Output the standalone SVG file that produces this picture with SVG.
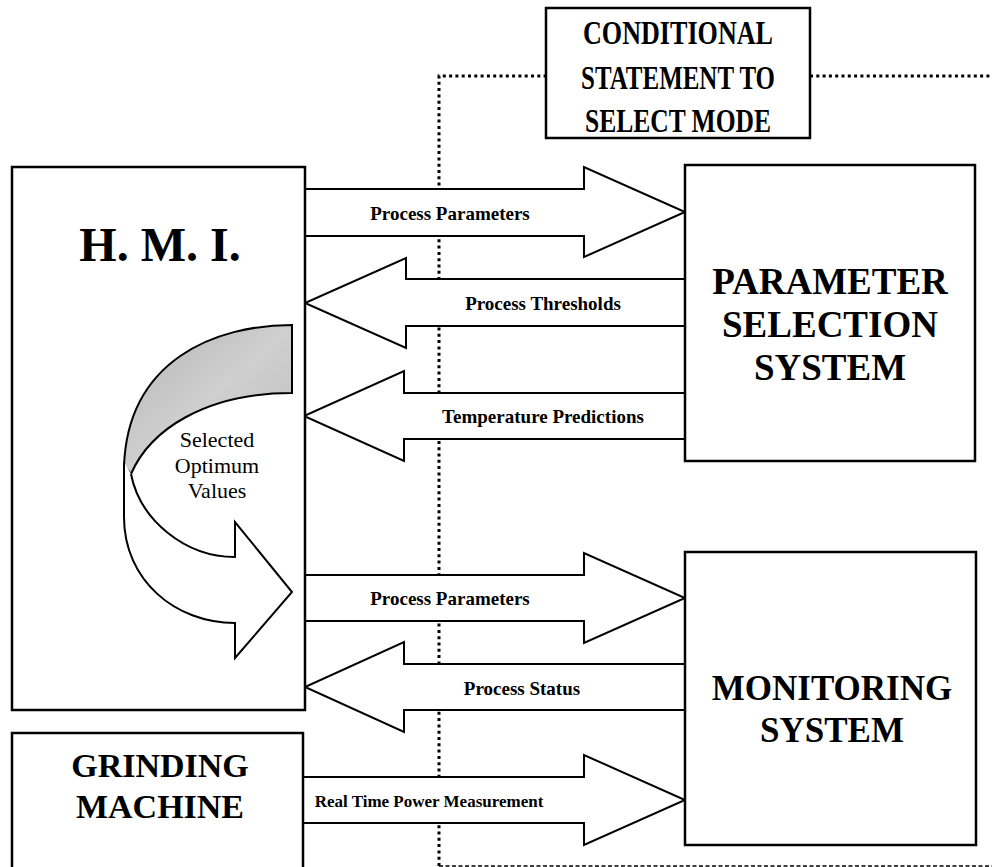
<svg xmlns="http://www.w3.org/2000/svg" width="992" height="867" viewBox="0 0 992 867">
  <style>
    .box { fill: #ffffff; stroke: #000000; stroke-width: 2.5; }
    .arrow { fill: #ffffff; stroke: #000000; stroke-width: 2; stroke-linejoin: miter; }
    .dots { fill: none; stroke: #000000; stroke-width: 3; stroke-dasharray: 3 3.3; }
    .dash { fill: none; stroke: #000000; stroke-width: 1.3; stroke-dasharray: 4 2.5; }
    .title { font-family: "Liberation Serif", "Times New Roman", serif; font-weight: bold; fill: #000000; text-anchor: middle; }
    .label { font-family: "Liberation Serif", "Times New Roman", serif; font-weight: bold; font-size: 19px; fill: #000000; text-anchor: middle; }
    .label.small { font-size: 17px; }
    .note { font-family: "Liberation Serif", "Times New Roman", serif; font-size: 22px; fill: #000000; text-anchor: middle; }
  </style>
  <defs>
    <linearGradient id="ribbonShade" x1="0" y1="0" x2="1" y2="1">
      <stop offset="0" stop-color="#b4b4b4"/>
      <stop offset="0.5" stop-color="#cfcfcf"/>
      <stop offset="1" stop-color="#bdbdbd"/>
    </linearGradient>
  </defs>

  <!-- mode-selection links (dotted) -->
  <g id="mode-links">
    <path class="dots" d="M439,866 L439,76 L546,76"/>
    <path class="dots" d="M810,76 L992,76"/>
    <path class="dash" d="M439,866 L992,866"/>
  </g>

  <!-- block arrows between the systems -->
  <g id="connectors">
    <polygon class="arrow" points="305,189 584,189 584,167 685,212 584,257 584,236 305,236"/>
    <polygon class="arrow" points="685,279 406,279 406,258 305,303 406,348 406,326 685,326"/>
    <polygon class="arrow" points="685,393 404,393 404,371 304,416 404,461 404,439 685,439"/>
    <polygon class="arrow" points="305,575 584,575 584,553 685,598 584,643 584,621 305,621"/>
    <polygon class="arrow" points="685,664 404,664 404,642 305,687 404,732 404,710 685,710"/>
    <polygon class="arrow" points="303,777 584,777 584,755 685,800 584,845 584,823 303,823"/>
    <text class="label" x="450" y="220">Process Parameters</text>
    <text class="label" x="543" y="310">Process Thresholds</text>
    <text class="label" x="543" y="423">Temperature Predictions</text>
    <text class="label" x="450" y="605">Process Parameters</text>
    <text class="label" x="522" y="695">Process Status</text>
    <text class="label small" x="429" y="807">Real Time Power Measurement</text>
  </g>

  <g id="mode-select">
    <rect class="box" x="546" y="8" width="264" height="130"/>
    <text class="title" font-size="34" x="678" y="44" textLength="190" lengthAdjust="spacingAndGlyphs">CONDITIONAL</text>
    <text class="title" font-size="34" x="678" y="89" textLength="194" lengthAdjust="spacingAndGlyphs">STATEMENT TO</text>
    <text class="title" font-size="34" x="678" y="132" textLength="186" lengthAdjust="spacingAndGlyphs">SELECT MODE</text>
  </g>

  <g id="hmi">
    <rect class="box" x="12" y="167" width="293" height="543"/>
    <text class="title" font-size="48" x="160" y="261">H. M. I.</text>
    <!-- U-turn arrow: shaded back of the ribbon, then the white front with its head -->
    <path d="M292,325 C215,325 128,360 124,466 L131,474 C150,430 205,393 292,393 Z" fill="url(#ribbonShade)" stroke="#000" stroke-width="2"/>
    <path d="M124,462 L124,517 C124,580 175,623 235,623 L235,658 L292,592 L235,522 L235,557 C185,557 140,520 131,474" fill="#fff" stroke="#000" stroke-width="2" stroke-linejoin="miter"/>
    <text class="note" x="217" y="447">Selected</text>
    <text class="note" x="217" y="473">Optimum</text>
    <text class="note" x="217" y="498">Values</text>
  </g>

  <g id="parameter-selection">
    <rect class="box" x="685" y="165" width="290" height="296"/>
    <text class="title" font-size="37" x="830" y="294">PARAMETER</text>
    <text class="title" font-size="37" x="830" y="337">SELECTION</text>
    <text class="title" font-size="37" x="830" y="380">SYSTEM</text>
  </g>

  <g id="monitoring">
    <rect class="box" x="685" y="552" width="291" height="293"/>
    <text class="title" font-size="35" x="832" y="700">MONITORING</text>
    <text class="title" font-size="35" x="832" y="742">SYSTEM</text>
  </g>

  <g id="grinding-machine">
    <rect class="box" x="12" y="733" width="291" height="150"/>
    <text class="title" font-size="34" x="160" y="777">GRINDING</text>
    <text class="title" font-size="34" x="160" y="818">MACHINE</text>
  </g>
</svg>
